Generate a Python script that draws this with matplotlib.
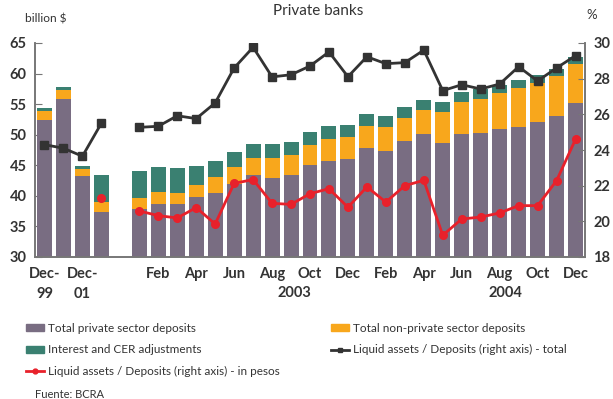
import numpy as np
import matplotlib.pyplot as plt
from matplotlib.patches import Patch
from matplotlib.lines import Line2D

plt.rcParams['font.family'] = ['Lato', 'DejaVu Sans']

# slot positions: 4 yearly bars, one empty slot, then Jan-03 .. Dec-04
slots = list(range(0, 4)) + list(range(5, 29))

private = [52.4, 55.8, 43.2, 37.4,
           37.8, 38.7, 38.7, 39.8, 40.5, 41.9, 43.4, 42.9, 43.4, 45.0, 45.7, 46.0,
           47.8, 47.3, 49.0, 50.1, 48.6, 50.1, 50.3, 50.9, 51.3, 52.1, 53.1, 55.2]
non_private = [1.5, 1.5, 1.2, 1.6,
               1.85, 1.9, 1.8, 2.0, 2.6, 2.8, 2.8, 3.3, 3.3, 3.3, 3.6, 3.6,
               3.6, 4.0, 3.7, 3.9, 5.1, 5.25, 5.5, 5.9, 6.3, 6.4, 6.5, 6.4]
interest = [0.5, 0.5, 0.5, 4.4,
            4.45, 4.1, 4.0, 3.1, 2.6, 2.5, 2.3, 2.3, 2.1, 2.1, 2.1, 2.0,
            2.0, 1.8, 1.8, 1.7, 1.65, 1.65, 1.7, 1.3, 1.35, 1.3, 1.15, 1.1]

liq_total = [24.3, 24.1, 23.65, 25.5,
             25.27, 25.33, 25.92, 25.76, 26.64, 28.6, 29.76, 28.1, 28.22, 28.71, 29.5, 28.11,
             29.23, 28.84, 28.9, 29.6, 27.33, 27.66, 27.42, 27.7, 28.67, 27.87, 28.6, 29.29]
liq_pesos = [np.nan, np.nan, np.nan, 21.29,
             20.58, 20.32, 20.19, 20.77, 19.85, 22.13, 22.34, 21.01, 20.95, 21.55, 21.83, 20.79,
             21.93, 21.08, 22.0, 22.3, 19.22, 20.13, 20.24, 20.47, 20.88, 20.88, 22.28, 24.6]

tick_pos = [0, 2, 6, 8, 10, 12, 14, 16, 18, 20, 22, 24, 26, 28]
tick_lbl = ['Dec-\n99', 'Dec-\n01', 'Feb', 'Apr', 'Jun', 'Aug', 'Oct', 'Dec',
            'Feb', 'Apr', 'Jun', 'Aug', 'Oct', 'Dec']

c_priv = '#796d82'
c_nonp = '#f8a71c'
c_int = '#3a8071'
c_tot = '#333333'
c_pes = '#e8212b'
txt = '#333333'

fig = plt.figure(figsize=(6.13, 3.99), dpi=100)
ax = fig.add_axes([35 / 613, 1 - 257 / 399, 550 / 613, 214 / 399])
ax2 = ax.twinx()

x = np.array(slots)
p = np.array(private)
n = np.array(non_private)
i = np.array(interest)
w = 0.79
ax.bar(x, p - 30, w, bottom=30, color=c_priv, zorder=2)
ax.bar(x, n, w, bottom=p, color=c_nonp, zorder=2)
ax.bar(x, i, w, bottom=p + n, color=c_int, zorder=2)

# broken lines between the yearly points and the monthly series
for seg in (slice(0, 4), slice(4, None)):
    ax2.plot(x[seg], np.array(liq_total)[seg], color=c_tot, lw=2, marker='s', ms=5.5, zorder=3)
    ax2.plot(x[seg], np.array(liq_pesos)[seg], color=c_pes, lw=2, marker='o', ms=5.5, zorder=3)

ax.set_xlim(-0.5, 28.5)
ax.set_ylim(30, 65)
ax.set_yticks(range(30, 66, 5))
ax2.set_ylim(18, 30)
ax2.set_yticks(range(18, 31, 2))
ax.set_xticks(tick_pos)
ax.set_xticklabels(tick_lbl, linespacing=1.6)

for a in (ax, ax2):
    a.spines['top'].set_visible(False)
    for s in a.spines.values():
        s.set_color('#777777')
        s.set_linewidth(1.2)
    a.tick_params(axis='y', direction='in', length=5, color='#777777', labelsize=10.5, labelcolor=txt)
    for t in a.get_yticklabels():
        t.set_fontweight('bold')
ax.tick_params(axis='x', length=0, pad=7, labelsize=10.5, labelcolor=txt)
for t in ax.get_xticklabels():
    t.set_fontweight('bold')
    t.set_va('top')
ax.tick_params(axis='y', pad=6)
ax2.tick_params(axis='y', pad=6)
ax.set_zorder(ax2.get_zorder() - 1)
ax2.patch.set_visible(False)

fig.text(318 / 613, 1 - 11 / 399, 'Private banks', ha='center', va='center', fontsize=11, color=txt)
fig.text(25 / 613, 1 - 19 / 399, 'billion $', ha='left', va='center', fontsize=8.6, color=txt)
fig.text(592 / 613, 1 - 15 / 399, '%', ha='center', va='center', fontsize=9.5, color=txt)
fig.text(294 / 613, 1 - 293 / 399, '2003', ha='center', va='center', fontsize=10.5, fontweight='bold', color=txt)
fig.text(505 / 613, 1 - 293 / 399, '2004', ha='center', va='center', fontsize=10.5, fontweight='bold', color=txt)
fig.text(35 / 613, 1 - 394 / 399, 'Fuente: BCRA', ha='left', va='center', fontsize=8, color=txt)

col1 = [
    Patch(color=c_priv, label='Total private sector deposits'),
    Patch(color=c_int, label='Interest and CER adjustments'),
    Line2D([], [], color=c_pes, lw=2, marker='o', ms=3.5, label='Liquid assets / Deposits (right axis) - in pesos'),
]
col2 = [
    Patch(color=c_nonp, label='Total non-private sector deposits'),
    Line2D([], [], color=c_tot, lw=2, marker='s', ms=3.5, label='Liquid assets / Deposits (right axis) - total'),
]
leg_kw = dict(loc='upper left', frameon=False, fontsize=8.5, handlelength=1.55, handleheight=0.5,
              handletextpad=0.3, labelspacing=0.92, borderaxespad=0, borderpad=0)
for hs, x0 in ((col1, 26), (col2, 331)):
    leg = fig.legend(handles=hs, bbox_to_anchor=(x0 / 613, 1 - 322.5 / 399), **leg_kw)
    for t in leg.get_texts():
        t.set_color(txt)

fig.savefig('out.png', dpi=100)
